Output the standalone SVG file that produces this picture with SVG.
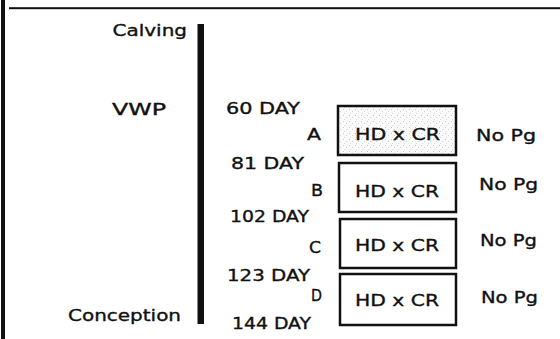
<svg xmlns="http://www.w3.org/2000/svg" width="560" height="339" viewBox="0 0 560 339">
<defs>
<pattern id="stip" width="6" height="6" patternUnits="userSpaceOnUse">
<rect width="6" height="6" fill="#fafafa"/>
<rect x="1" y="1" width="1" height="1" fill="#c8c8c8"/>
<rect x="4" y="3" width="1" height="1" fill="#d4d4d4"/>
<rect x="2" y="5" width="1" height="1" fill="#dcdcdc"/>
</pattern>
</defs>
<style>
text{font-family:"DejaVu Sans","Liberation Sans",sans-serif;font-size:16px;fill:#111;stroke:#111;stroke-width:0.35}
.box{fill:#fff;stroke:#111;stroke-width:2.5}
</style>
<rect width="560" height="339" fill="#fff"/>
<g id="frame">
<rect x="1" y="0" width="4" height="339" fill="#111"/>
<rect x="9" y="7.2" width="551" height="2" fill="#111"/>
</g>
<g id="timeline">
<rect x="197.5" y="24" width="6.5" height="300" fill="#111"/>
</g>
<g id="connectors"></g>
<g id="left-labels">
<text x="112.5" y="36" textLength="74.5" lengthAdjust="spacingAndGlyphs">Calving</text>
<text x="112" y="115" textLength="54" lengthAdjust="spacingAndGlyphs">VWP</text>
<text x="68" y="321" textLength="113" lengthAdjust="spacingAndGlyphs">Conception</text>
</g>
<g id="day-labels">
<text x="226" y="114" textLength="74" lengthAdjust="spacingAndGlyphs">60 DAY</text>
<text x="231" y="169" textLength="73" lengthAdjust="spacingAndGlyphs">81 DAY</text>
<text x="230" y="222" textLength="79" lengthAdjust="spacingAndGlyphs">102 DAY</text>
<text x="227" y="281" textLength="83" lengthAdjust="spacingAndGlyphs">123 DAY</text>
<text x="232" y="329" textLength="79" lengthAdjust="spacingAndGlyphs">144 DAY</text>
</g>
<g id="node-A">
<text x="307" y="140" textLength="14" lengthAdjust="spacingAndGlyphs">A</text>
<rect class="box" x="338" y="106" width="118" height="49" style="fill:url(#stip)"/>
<text x="355" y="140" textLength="85" lengthAdjust="spacingAndGlyphs">HD x CR</text>
<text x="476" y="141" textLength="60" lengthAdjust="spacingAndGlyphs">No Pg</text>
</g>
<g id="node-B">
<text x="311" y="196" textLength="12" lengthAdjust="spacingAndGlyphs">B</text>
<rect class="box" x="339" y="163" width="117" height="49"/>
<text x="355" y="197" textLength="84" lengthAdjust="spacingAndGlyphs">HD x CR</text>
<text x="479" y="190" textLength="59" lengthAdjust="spacingAndGlyphs">No Pg</text>
</g>
<g id="node-C">
<text x="309" y="253" textLength="12" lengthAdjust="spacingAndGlyphs">C</text>
<rect class="box" x="340" y="219" width="116" height="49"/>
<text x="355" y="251" textLength="84" lengthAdjust="spacingAndGlyphs">HD x CR</text>
<text x="480" y="246" textLength="57" lengthAdjust="spacingAndGlyphs">No Pg</text>
</g>
<g id="node-D">
<text x="311" y="301" textLength="11" lengthAdjust="spacingAndGlyphs">D</text>
<rect class="box" x="340" y="274" width="116" height="51"/>
<text x="355" y="306" textLength="84" lengthAdjust="spacingAndGlyphs">HD x CR</text>
<text x="481" y="303" textLength="57" lengthAdjust="spacingAndGlyphs">No Pg</text>
</g>
</svg>
